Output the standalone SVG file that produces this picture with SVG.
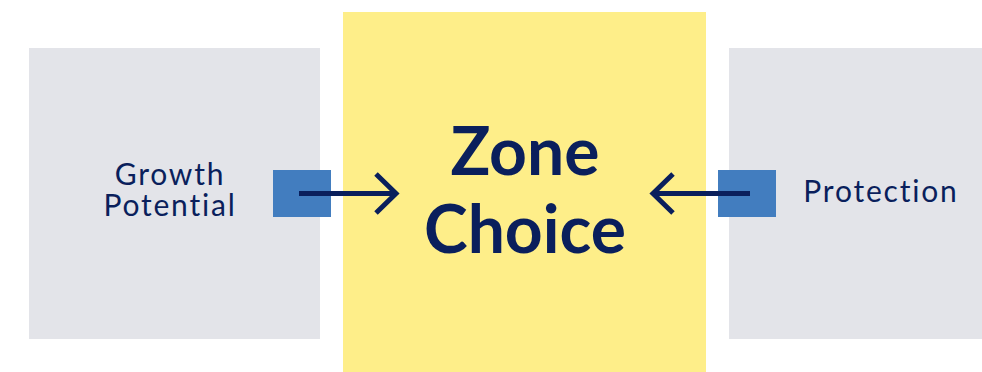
<svg xmlns="http://www.w3.org/2000/svg" width="982" height="372" viewBox="0 0 982 372">
<style>
.side{fill:#e3e4e9}
.port{fill:#427dbf}
.lbl{font-family:Lato,"Open Sans",sans-serif;font-size:30px;letter-spacing:1.8px;fill:#0a1f5c;text-anchor:middle}
.big{font-family:Lato,"Open Sans",sans-serif;font-size:66px;font-weight:700;fill:#0a1f5c;text-anchor:middle}
.conn{stroke:#0a1f5c;stroke-width:5;fill:none}
</style>
<rect width="982" height="372" fill="#ffffff"/>
<g id="growth">
<rect class="side" x="29" y="48" width="291" height="291"/>
<text class="lbl" x="170" y="185">Growth</text>
<text class="lbl" x="170" y="216">Potential</text>
<rect class="port" x="273" y="170" width="58" height="47"/>
</g>
<g id="protection">
<rect class="side" x="729" y="48" width="253" height="291"/>
<text class="lbl" x="881" y="202">Protection</text>
<rect class="port" x="718" y="170" width="58" height="47"/>
</g>
<g id="zone">
<rect x="343" y="12" width="363" height="360" fill="#feee89"/>
<text class="big" x="525" y="175">Zone</text>
<text class="big" x="525" y="253">Choice</text>
</g>
<g id="connectors">
<path class="conn" d="M299 193.5H396"/>
<path class="conn" d="M376 174L396 193.5L376 213"/>
<path class="conn" d="M750 193.5H653"/>
<path class="conn" d="M673 174L653 193.5L673 213"/>
</g>
</svg>
